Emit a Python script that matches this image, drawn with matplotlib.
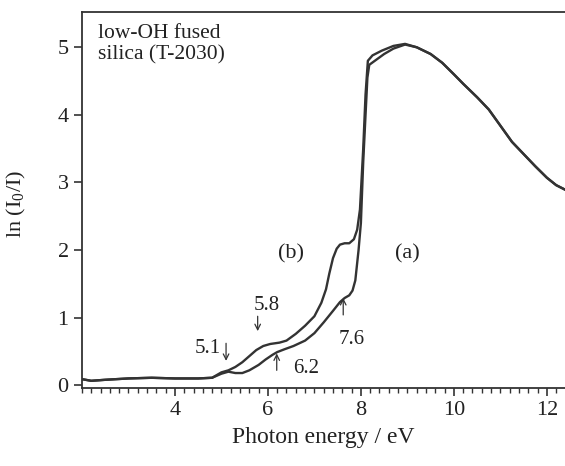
import matplotlib
matplotlib.use('Agg')
import matplotlib.pyplot as plt
from matplotlib.ticker import MultipleLocator

plt.rcParams['font.family'] = ['Liberation Serif', 'DejaVu Serif']
plt.rcParams['mathtext.fontset'] = 'custom'
plt.rcParams['mathtext.rm'] = 'Liberation Serif'
plt.rcParams['mathtext.it'] = 'Liberation Serif'

# shared tail above the edge
tail_e = [9.2, 9.5, 9.75, 10.0, 10.2, 10.5, 10.75, 11.0, 11.25, 11.5, 11.75, 12.0, 12.2, 12.4]
tail_v = [5.00, 4.90, 4.77, 4.60, 4.46, 4.26, 4.08, 3.84, 3.60, 3.42, 3.24, 3.07, 2.96, 2.89]

# curve (a): lower spectrum
energy_a = [2.0, 2.2, 2.5, 3.0, 3.5, 4.0, 4.5, 4.8, 5.0, 5.15, 5.3, 5.45, 5.6, 5.8, 5.95,
            6.1, 6.2, 6.35, 6.55, 6.8, 7.0, 7.2, 7.4, 7.55, 7.65, 7.75, 7.82, 7.88,
            7.95, 8.0, 8.05, 8.1, 8.14, 8.18, 8.3, 8.5, 8.7, 8.95] + tail_e
lnI_a = [0.09, 0.065, 0.08, 0.10, 0.11, 0.10, 0.10, 0.11, 0.17, 0.20, 0.18, 0.18, 0.22, 0.30, 0.38,
         0.45, 0.49, 0.53, 0.58, 0.66, 0.77, 0.93, 1.10, 1.23, 1.29, 1.33, 1.40, 1.55,
         2.00, 2.40, 3.30, 4.00, 4.55, 4.74, 4.80, 4.90, 4.98, 5.04] + tail_v

# curve (b): upper spectrum
energy_b = [2.0, 2.2, 2.5, 3.0, 3.5, 4.0, 4.5, 4.8, 5.0, 5.15, 5.3, 5.45, 5.6, 5.75, 5.9,
            6.05, 6.25, 6.4, 6.6, 6.8, 7.0, 7.15, 7.25, 7.32, 7.4, 7.48, 7.55, 7.65,
            7.75, 7.85, 7.92, 7.98, 8.05, 8.1, 8.15, 8.25, 8.45, 8.7, 8.95] + tail_e
lnI_b = [0.09, 0.065, 0.08, 0.10, 0.11, 0.10, 0.10, 0.11, 0.19, 0.22, 0.27, 0.34, 0.43, 0.52, 0.58,
         0.61, 0.63, 0.66, 0.76, 0.88, 1.02, 1.22, 1.42, 1.65, 1.88, 2.02, 2.08, 2.10,
         2.10, 2.16, 2.30, 2.60, 3.50, 4.30, 4.80, 4.88, 4.95, 5.02, 5.05] + tail_v

xticks = [4, 6, 8, 10, 12]
yticks = [0, 1, 2, 3, 4, 5]

ink = '#333333'
txt = '#222222'

fig = plt.figure(figsize=(5.65, 4.66), dpi=100)
ax = fig.add_axes([0.145, 0.167, 0.855, 0.807])

ax.plot(energy_a, lnI_a, color=ink, lw=1.7)
ax.plot(energy_b, lnI_b, color=ink, lw=1.7)

ax.set_xlim(2.0, 12.39)
ax.set_ylim(-0.044, 5.52)
ax.set_xticks(xticks)
ax.set_yticks(yticks)
ax.xaxis.set_minor_locator(MultipleLocator(0.2))
ax.tick_params(axis='both', which='major', direction='out', length=6, width=1.2,
               colors=ink, labelsize=16, labelcolor=txt)
ax.tick_params(axis='x', which='minor', direction='out', length=3.5, width=1.0, colors=ink)
ax.spines['right'].set_visible(False)
for s in ['left', 'top', 'bottom']:
    ax.spines[s].set_linewidth(1.3)
    ax.spines[s].set_color(ink)

ax.set_xlabel('Photon energy / eV', fontsize=17, color=txt, labelpad=5)
ax.set_ylabel('ln (I$_0$/I)', fontsize=16, color=txt)
ax.yaxis.set_label_coords(-0.112, 0.49)

ax.text(0.033, 0.968, 'low-OH fused\nsilica (T-2030)', transform=ax.transAxes,
        ha='left', va='top', fontsize=15.5, color=txt, linespacing=1.15)

ax.text(6.5, 1.95, '(b)', fontsize=16, ha='center', va='center', color=txt)
ax.text(9.0, 1.95, '(a)', fontsize=16, ha='center', va='center', color=txt)

arrow = dict(arrowstyle='->', lw=0.9, color=ink, shrinkA=0, shrinkB=0)
ax.text(4.98, 0.55, '5.1', fontsize=15, ha='right', va='center', color=txt)
ax.annotate('', xy=(5.1, 0.36), xytext=(5.1, 0.62), arrowprops=arrow)
ax.text(5.98, 1.18, '5.8', fontsize=15, ha='center', va='center', color=txt)
ax.annotate('', xy=(5.78, 0.8), xytext=(5.78, 1.02), arrowprops=arrow)
ax.annotate('', xy=(6.19, 0.47), xytext=(6.19, 0.22), arrowprops=arrow)
ax.text(6.82, 0.25, '6.2', fontsize=15, ha='center', va='center', color=txt)
ax.annotate('', xy=(7.62, 1.29), xytext=(7.62, 1.04), arrowprops=arrow)
ax.text(7.8, 0.67, '7.6', fontsize=15, ha='center', va='center', color=txt)

fig.savefig('out.png', dpi=100)
